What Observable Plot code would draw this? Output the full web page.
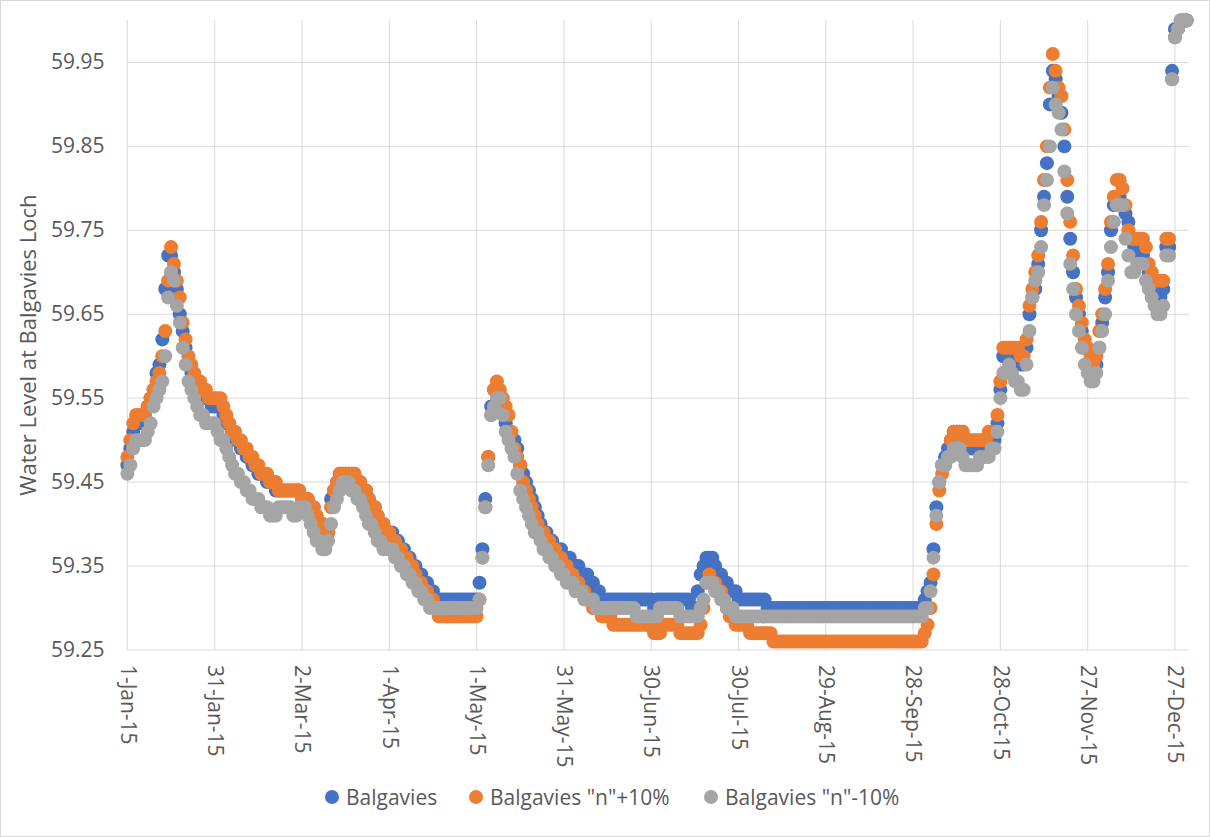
<!DOCTYPE html>
<html>
<head>
<meta charset="utf-8">
<script src="https://cdn.jsdelivr.net/npm/d3@7"></script>
<script src="https://cdn.jsdelivr.net/npm/@observablehq/plot@0.6"></script>
<style>
html, body { margin: 0; padding: 0; background: #fff; }
#wrap { position: relative; width: 1210px; height: 837px; box-sizing: border-box; border: 1px solid #d9d9d9; overflow: hidden; font-family: "Open Sans", sans-serif; }
#chart { position: absolute; left: -1px; top: -1px; }
#legend { position: absolute; left: 0; top: 783px; width: 1210px; height: 26px; font-size: 21px; color: #595959; white-space: nowrap; }
#legend .item { position: absolute; top: 0; height: 26px; display: flex; align-items: center; }
#legend .sw { width: 14px; height: 14px; border-radius: 50%; margin-right: 7px; display: inline-block; }
</style>
</head>
<body>
<div id="wrap">
  <div id="chart"></div>
  <div id="legend"></div>
</div>
<script>
// ---------- data (daily water level, m) ----------
const yearStart = new Date(Date.UTC(2015, 0, 1));
const yearEnd = new Date(Date.UTC(2016, 0, 1));

const seriesNames = ["Balgavies", "Balgavies \"n\"+10%", "Balgavies \"n\"-10%"];
const seriesColors = ["#4472C4", "#ED7D31", "#A5A5A5"];

const xTickLabels = ["1-Jan-15", "31-Jan-15", "2-Mar-15", "1-Apr-15", "1-May-15", "31-May-15", "30-Jun-15",
  "30-Jul-15", "29-Aug-15", "28-Sep-15", "28-Oct-15", "27-Nov-15", "27-Dec-15"];
const yTickValues = [59.25, 59.35, 59.45, 59.55, 59.65, 59.75, 59.85, 59.95];
const yTitle = "Water Level at Balgavies Loch";

const balgavies = [
  // Jan
  59.47,59.49,59.51,59.52,59.52,59.52,59.53,59.54,59.55,59.56,59.58,59.59,59.62,59.68,59.72,59.72,59.70,59.68,59.65,59.63,59.61,59.59,59.58,59.57,59.56,59.56,59.55,59.55,59.55,59.54,59.54,
  // Feb
  59.54,59.54,59.53,59.52,59.52,59.51,59.50,59.50,59.49,59.49,59.48,59.48,59.47,59.47,59.46,59.46,59.46,59.45,59.45,59.45,59.44,59.44,59.44,59.44,59.44,59.44,59.44,59.44,
  // Mar
  59.44,59.43,59.43,59.43,59.42,59.42,59.41,59.40,59.40,59.39,59.39,59.43,59.44,59.45,59.46,59.46,59.46,59.46,59.46,59.46,59.45,59.45,59.44,59.44,59.43,59.42,59.42,59.41,59.40,59.40,59.39,
  // Apr
  59.39,59.39,59.38,59.38,59.37,59.37,59.36,59.36,59.35,59.35,59.34,59.34,59.33,59.33,59.32,59.32,
  59.31,59.31,59.31,59.31,59.31,59.31,59.31,59.31,59.31,59.31,59.31,59.31,59.31,59.31,
  // May
  59.31,59.33,59.37,59.43,59.48,59.54,59.56,59.56,59.55,59.54,59.52,59.51,59.50,59.50,59.49,59.47,59.46,59.45,59.44,59.43,59.42,59.41,59.40,59.39,59.39,59.38,59.38,59.37,59.37,59.37,59.36,
  // Jun
  59.36,59.36,59.35,59.35,59.35,59.34,59.34,59.34,59.33,59.33,59.32,59.32,
  59.31,59.31,59.31,59.31,59.31,59.31,59.31,59.31,59.31,59.31,59.31,59.31,59.31,59.31,59.31,59.31,59.31,59.31,
  // Jul
  59.30,59.31,59.31,59.31,59.31,59.31,59.31,59.31,59.31,59.31,59.31,59.31,59.31,
  59.30,59.30,59.32,59.34,59.35,59.36,59.36,59.36,59.35,59.34,59.34,59.33,59.33,59.32,59.32,59.32,59.31,59.31,
  // Aug
  59.31,59.31,59.31,59.31,59.31,59.31,59.31,59.31,
  59.30,59.30,59.30,59.30,59.30,59.30,59.30,59.30,59.30,59.30,59.30,59.30,59.30,59.30,59.30,59.30,59.30,59.30,59.30,59.30,59.30,59.30,59.30,
  // Sep
  59.30,59.30,59.30,59.30,59.30,59.30,59.30,59.30,59.30,59.30,
  59.30,59.30,59.30,59.30,59.30,59.30,59.30,59.30,59.30,59.30,
  59.30,59.30,59.30,59.30,59.30,59.30,59.30,59.30,59.30,59.30,
  // Oct
  59.30,59.31,59.32,59.33,59.37,59.42,59.45,59.47,59.48,59.49,59.50,59.51,59.51,59.51,59.51,59.50,59.50,59.49,59.49,59.49,59.49,59.49,59.49,59.50,59.50,59.50,59.52,59.56,59.60,59.60,59.60,
  // Nov
  59.60,59.60,59.60,59.59,59.59,59.61,59.65,59.67,59.68,59.71,59.75,59.79,59.83,59.90,59.94,59.93,59.91,59.89,59.85,59.79,59.74,59.70,59.67,59.65,59.63,59.61,59.59,59.58,59.58,59.59,
  // Dec
  59.61,59.64,59.67,59.70,59.75,59.78,59.79,59.79,59.78,59.77,59.76,59.74,59.73,59.73,59.72,59.72,59.71,59.70,59.69,59.68,59.67,59.67,59.68,59.73,59.73,59.94,59.99,59.99,60.00,60.00,60.00
];

const balgaviesPlus10 = [
  // Jan
  59.48,59.50,59.52,59.53,59.53,59.53,59.53,59.54,59.55,59.56,59.57,59.58,59.60,59.63,59.69,59.73,59.71,59.69,59.67,59.64,59.62,59.60,59.59,59.58,59.57,59.57,59.56,59.56,59.55,59.55,59.55,
  // Feb
  59.55,59.55,59.54,59.53,59.52,59.51,59.51,59.50,59.50,59.49,59.49,59.48,59.48,59.47,59.47,59.46,59.46,59.46,59.45,59.45,59.45,59.44,59.44,59.44,59.44,59.44,59.44,59.44,
  // Mar
  59.44,59.43,59.43,59.43,59.42,59.42,59.41,59.40,59.40,59.39,59.39,59.42,59.44,59.45,59.46,59.46,59.46,59.46,59.46,59.46,59.45,59.45,59.44,59.44,59.43,59.42,59.42,59.41,59.40,59.40,59.39,
  // Apr
  59.39,59.38,59.38,59.37,59.37,59.36,59.36,59.35,59.35,59.34,59.33,59.33,59.32,59.32,59.31,59.31,59.30,
  59.29,59.29,59.29,59.29,59.29,59.29,59.29,59.29,59.29,59.29,59.29,59.29,59.29,
  // May
  59.29,59.31,59.36,59.42,59.48,59.53,59.56,59.57,59.56,59.55,59.54,59.53,59.51,59.49,59.48,59.47,59.45,59.44,59.43,59.42,59.41,59.40,59.39,59.39,59.38,59.38,59.37,59.37,59.36,59.36,59.35,
  // Jun
  59.35,59.34,59.34,59.33,59.33,59.32,59.32,59.31,59.31,59.30,59.30,59.30,59.29,59.29,59.29,59.29,
  59.28,59.28,59.28,59.28,59.28,59.28,59.28,59.28,59.28,59.28,59.28,59.28,59.28,59.28,
  // Jul
  59.27,59.27,59.27,59.28,59.28,59.28,59.28,59.28,59.28,59.27,59.27,59.27,59.27,59.27,59.27,59.27,
  59.28,59.30,59.33,59.34,59.33,59.33,59.32,59.32,59.31,59.30,59.29,59.29,59.28,59.28,59.28,
  // Aug
  59.28,59.28,59.27,59.27,59.27,59.27,59.27,59.27,59.27,59.27,
  59.26,59.26,59.26,59.26,59.26,59.26,59.26,59.26,59.26,59.26,59.26,59.26,59.26,59.26,59.26,59.26,59.26,59.26,59.26,59.26,59.26,
  // Sep
  59.26,59.26,59.26,59.26,59.26,59.26,59.26,59.26,59.26,59.26,
  59.26,59.26,59.26,59.26,59.26,59.26,59.26,59.26,59.26,59.26,
  59.26,59.26,59.26,59.26,59.26,59.26,59.26,59.26,59.26,59.26,
  // Oct
  59.26,59.27,59.28,59.30,59.34,59.40,59.44,59.46,59.47,59.48,59.50,59.51,59.51,59.51,59.51,59.50,59.50,59.50,59.50,59.50,59.50,59.50,59.50,59.51,59.51,59.51,59.53,59.57,59.61,59.61,59.61,
  // Nov
  59.61,59.61,59.61,59.60,59.60,59.62,59.66,59.68,59.70,59.72,59.76,59.81,59.85,59.92,59.96,59.94,59.92,59.91,59.87,59.81,59.76,59.72,59.68,59.66,59.64,59.62,59.61,59.60,59.59,59.60,
  // Dec
  59.63,59.65,59.68,59.71,59.76,59.79,59.81,59.81,59.80,59.78,59.75,59.74,59.74,59.74,59.74,59.74,59.73,59.71,59.70,59.69,59.69,59.69,59.69,59.74,59.74,59.93,59.98,59.99,60.00,60.00,60.00
];

const balgaviesMinus10 = [
  // Jan
  59.46,59.47,59.49,59.50,59.50,59.50,59.50,59.51,59.52,59.54,59.55,59.56,59.57,59.60,59.67,59.70,59.69,59.66,59.64,59.61,59.59,59.57,59.56,59.55,59.54,59.53,59.53,59.52,59.52,59.52,59.52,
  // Feb
  59.51,59.50,59.50,59.49,59.48,59.47,59.46,59.46,59.45,59.45,59.44,59.44,59.43,59.43,59.43,59.42,59.42,59.42,59.41,59.41,59.41,59.42,59.42,59.42,59.42,59.42,59.41,59.41,
  // Mar
  59.42,59.42,59.42,59.41,59.40,59.39,59.38,59.38,59.37,59.37,59.38,59.40,59.42,59.43,59.44,59.45,59.45,59.45,59.44,59.44,59.43,59.43,59.42,59.41,59.40,59.40,59.39,59.38,59.38,59.37,59.37,
  // Apr
  59.37,59.37,59.36,59.36,59.35,59.35,59.34,59.34,59.33,59.33,59.32,59.32,59.31,59.31,59.30,
  59.30,59.30,59.30,59.30,59.30,59.30,59.30,59.30,59.30,59.30,59.30,59.30,59.30,59.30,59.30,
  // May
  59.30,59.31,59.36,59.42,59.47,59.53,59.54,59.55,59.55,59.53,59.51,59.50,59.49,59.48,59.46,59.44,59.43,59.42,59.41,59.40,59.39,59.39,59.38,59.37,59.37,59.36,59.36,59.35,59.35,59.34,59.34,
  // Jun
  59.33,59.33,59.33,59.32,59.32,59.32,59.31,59.31,59.31,59.31,59.30,
  59.30,59.30,59.30,59.30,59.30,59.30,59.30,59.30,59.30,59.30,59.30,59.30,59.30,
  59.29,59.29,59.29,59.29,59.29,59.29,
  // Jul
  59.29,59.29,59.30,59.30,59.30,59.30,59.30,59.30,59.30,59.29,59.29,59.29,59.29,59.29,59.29,59.29,
  59.30,59.31,59.33,59.33,59.33,59.32,59.32,59.31,59.31,59.30,59.30,59.30,59.29,59.29,59.29,
  // Aug
  59.29,59.29,59.29,59.29,59.29,59.29,59.29,59.29,59.29,59.29,
  59.29,59.29,59.29,59.29,59.29,59.29,59.29,59.29,59.29,59.29,
  59.29,59.29,59.29,59.29,59.29,59.29,59.29,59.29,59.29,59.29,59.29,
  // Sep
  59.29,59.29,59.29,59.29,59.29,59.29,59.29,59.29,59.29,59.29,
  59.29,59.29,59.29,59.29,59.29,59.29,59.29,59.29,59.29,59.29,
  59.29,59.29,59.29,59.29,59.29,59.29,59.29,59.29,59.29,59.29,
  // Oct
  59.29,59.30,59.30,59.32,59.36,59.41,59.45,59.47,59.47,59.48,59.48,59.49,59.49,59.49,59.48,59.47,59.47,59.47,59.47,59.47,59.48,59.48,59.48,59.48,59.49,59.49,59.51,59.55,59.58,59.58,59.59,
  // Nov
  59.58,59.57,59.57,59.56,59.56,59.59,59.63,59.67,59.69,59.70,59.73,59.78,59.81,59.85,59.92,59.90,59.89,59.87,59.82,59.77,59.71,59.68,59.65,59.63,59.61,59.59,59.58,59.57,59.57,59.58,
  // Dec
  59.61,59.63,59.65,59.69,59.73,59.76,59.78,59.78,59.78,59.74,59.72,59.70,59.70,59.71,59.71,59.71,59.69,59.68,59.67,59.66,59.65,59.65,59.66,59.72,59.72,59.93,59.98,59.99,60.00,60.00,60.00
];

// ---------- build ----------
const dates = d3.utcDay.range(yearStart, yearEnd);
const allSeries = [balgavies, balgaviesPlus10, balgaviesMinus10];
allSeries.forEach((s, i) => {
  if (s.length !== dates.length) throw new Error("series " + i + " has " + s.length + " values, expected " + dates.length);
});
const toRows = (values) => values.map((v, i) => ({date: dates[i], value: v}));

const parseTick = d3.utcParse("%d-%b-%y");
const xTickDates = xTickLabels.map(parseTick);
const fmtTick = d3.utcFormat("%-d-%b-%y");

const gridColor = "#d9d9d9";
const textColor = "#595959";

const chart = Plot.plot({
  width: 1210,
  height: 770,
  marginLeft: 127,
  marginRight: 20,
  marginTop: 20,
  marginBottom: 120,
  style: {fontFamily: "'Open Sans', sans-serif", fontSize: "21px", color: textColor, background: "transparent", overflow: "visible"},
  x: {type: "utc", domain: [yearStart, yearEnd]},
  y: {domain: [59.25, 60.0]},
  marks: [
    Plot.gridY(yTickValues, {stroke: gridColor, strokeOpacity: 1, strokeWidth: 1}),
    Plot.gridX(xTickDates, {stroke: gridColor, strokeOpacity: 1, strokeWidth: 1}),
    ...allSeries.map((s, i) => Plot.dot(toRows(s), {x: "date", y: "value", r: 7, fill: seriesColors[i], stroke: null})),
    Plot.axisY(yTickValues, {
      tickSize: 0, tickPadding: 23, tickFormat: (d) => d.toFixed(2), fill: textColor, label: null
    }),
    Plot.axisX(xTickDates, {
      tickSize: 0, tickRotate: 90, textAnchor: "start", tickPadding: 15, tickFormat: fmtTick, fill: textColor, label: null
    }),
    Plot.text([yTitle], {
      text: (d) => d, frameAnchor: "left", rotate: -90, textAnchor: "middle", lineAnchor: "middle",
      dx: -99, dy: 10, fontSize: 22, fill: textColor
    })
  ]
});
document.getElementById("chart").appendChild(chart);

// legend
const legend = document.getElementById("legend");
const legendLeft = [324, 468, 703];
seriesNames.forEach((name, i) => {
  const item = document.createElement("span");
  item.className = "item";
  item.style.left = legendLeft[i] + "px";
  const sw = document.createElement("span");
  sw.className = "sw";
  sw.style.background = seriesColors[i];
  item.appendChild(sw);
  item.appendChild(document.createTextNode(name));
  legend.appendChild(item);
});
</script>
</body>
</html>
